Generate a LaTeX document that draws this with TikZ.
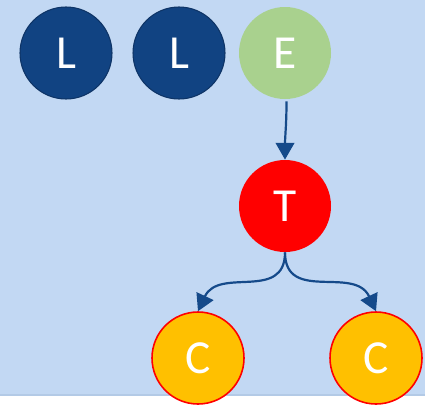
\documentclass[tikz,border=0pt]{standalone}
\usepackage{fontspec}
\setmainfont{Carlito}
\usepackage{tikz}
\usetikzlibrary{calc}
\usetikzlibrary{arrows.meta}

\definecolor{bgblue}{HTML}{C2D8F3}
\definecolor{bgline}{HTML}{B3CAE6}
\definecolor{ldark}{HTML}{114382}
\definecolor{ledge}{HTML}{0E3466}
\definecolor{egreen}{HTML}{A9D18E}
\definecolor{corange}{HTML}{FFC000}
\definecolor{linkblue}{HTML}{154A8A}

\begin{document}
\begin{tikzpicture}[
  ball/.style={circle, minimum size=1.84cm, inner sep=0pt, text=white,
    font=\fontsize{27}{27}\selectfont},
  lball/.style={ball, fill=ldark, draw=ledge, line width=0.6pt},
  eball/.style={ball, fill=egreen},
  tball/.style={ball, fill=red},
  cball/.style={ball, fill=corange, draw=red, line width=0.9pt},
  link/.style={-{Triangle[width=10.5pt, length=9.5pt]}, draw=linkblue, line width=1.25pt}
]
\useasboundingbox (0,0) rectangle (8.5,8.1);
\fill[bgblue] (0,0.2) rectangle (8.5,8.1);
\draw[bgline, line width=1pt] (0,0.2) -- (8.5,0.2);

\node (L1) at (1.32,7.04) [lball] {L};
\node (L2) at (3.58,7.04) [lball] {L};
\node (E) at (5.70,7.04) [eball] {E};
\node (T) at (5.70,3.98) [tball] {T};
\node (C1) at (3.96,0.94) [cball] {C};
\node (C2) at (7.52,0.94) [cball] {C};

\draw [link] ($(E.south)+(0.03,-0.04)$) to[out=-90, in=90] (T.north);
\draw [link] (T.south) to[out=-90, in=65, looseness=1.2] (C1.north);
\draw [link] (T.south) to[out=-90, in=115, looseness=1.2] (C2.north);
\end{tikzpicture}
\end{document}
